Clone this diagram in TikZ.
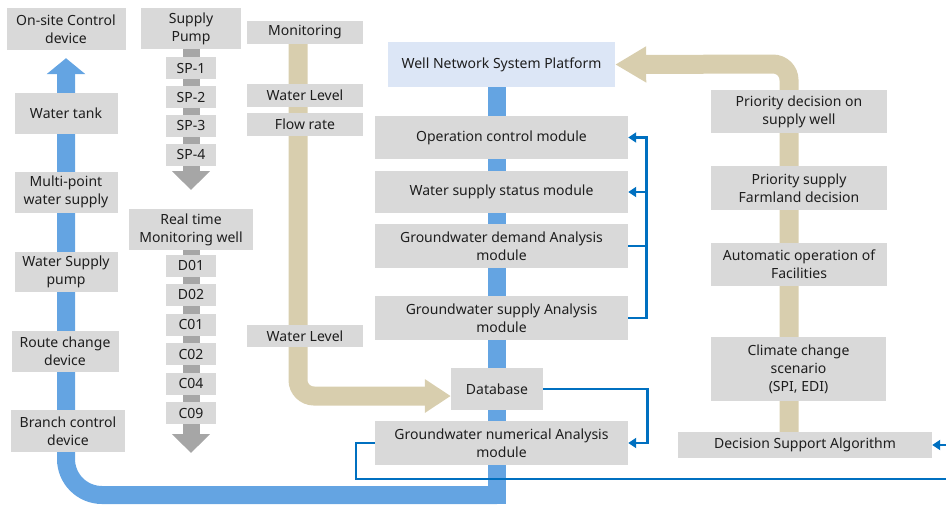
\documentclass[tikz,border=0pt]{standalone}
\usepackage{fontspec}
\setmainfont{Noto Sans}
\usetikzlibrary{arrows.meta,backgrounds}
\definecolor{boxgray}{RGB}{217,217,217}
\definecolor{txt}{RGB}{30,30,30}
\definecolor{platblue}{RGB}{220,230,246}
\definecolor{barblue}{RGB}{100,164,226}
\definecolor{linkblue}{RGB}{0,112,192}
\definecolor{beige}{RGB}{216,206,174}
\definecolor{bargray}{RGB}{166,166,166}

\begin{document}
\begin{tikzpicture}[x=1pt,y=-1pt,
  every node/.style={font=\fontsize{14}{18}\selectfont,text=txt,align=center,inner sep=0pt},
  box/.style 2 args={fill=boxgray,minimum width=#1pt,minimum height=#2pt},
  bluebar/.style={draw=barblue,line width=18pt},
  beigebar/.style={draw=beige,line width=19pt},
  graybar/.style={draw=bargray,line width=17pt},
  link/.style={draw=linkblue,line width=2.6pt},
  linkto/.style={link,-{Triangle[length=8pt,width=10pt]}}]
\useasboundingbox (0,0) rectangle (946,504);
\clip (0,0) rectangle (946,504);
% left column
\node[box={119}{42}] (onsite) at (66,29) {On-site Control\\device};
\node[box={103}{41}] (tank) at (66,113) {Water tank};
\node[box={103}{41}] (multi) at (66,192) {Multi-point\\water supply};
\node[box={103}{40}] (wspump) at (66,272) {Water Supply\\pump};
\node[box={107}{41}] (route) at (65,351.5) {Route change\\device};
\node[box={114}{42}] (branch) at (68,431) {Branch control\\device};
% pumps and monitoring wells
\node[box={100}{41}] (pump) at (191,28.5) {Supply\\Pump};
\node[box={50}{22}] (sp1) at (191,68) {SP-1};
\node[box={50}{22}] (sp2) at (191,97) {SP-2};
\node[box={50}{22}] (sp3) at (191,125.5) {SP-3};
\node[box={50}{22}] (sp4) at (191,154.5) {SP-4};
\coordinate (sptip) at (191,190);
\node[box={124}{41}] (rtm) at (191,229.5) {Real time\\Monitoring well};
\node[box={50}{22}] (d01) at (191,265.5) {D01};
\node[box={50}{22}] (d02) at (191,294.5) {D02};
\node[box={50}{22}] (c01) at (191,324.5) {C01};
\node[box={50}{22}] (c02) at (191,354) {C02};
\node[box={50}{22}] (c04) at (191,383.5) {C04};
\node[box={50}{22}] (c09) at (191,413) {C09};
\coordinate (wtip) at (191,453);
% monitoring
\node[box={116}{23}] (monitor) at (305,32.5) {Monitoring};
\node[box={116}{23}] (wl1) at (305,95.5) {Water Level};
\node[box={116}{23}] (flow) at (305,124.5) {Flow rate};
\node[box={116}{22}] (wl2) at (305,336) {Water Level};
% platform and modules
\node[box={227}{45},fill=platblue] (platform) at (501.5,64.5) {Well Network System Platform};
\node[box={253}{43}] (opc) at (501.5,137.5) {Operation control module};
\node[box={253}{42}] (wss) at (501.5,192) {Water supply status module};
\node[box={253}{44}] (gda) at (501.5,246) {Groundwater demand Analysis\\module};
\node[box={253}{44}] (gsa) at (501.5,318) {Groundwater supply Analysis\\module};
\node[box={92}{42}] (dbase) at (497,389) {Database};
\node[box={253}{44}] (gna) at (501.5,443) {Groundwater numerical Analysis\\module};
\coordinate (bottom) at (497,504);
% decision side
\node[box={176}{43}] (prio) at (799,111.5) {Priority decision on\\supply well};
\node[box={176}{44}] (farm) at (799,188) {Priority supply\\Farmland decision};
\node[box={176}{43}] (auto) at (799,264.5) {Automatic operation of\\Facilities};
\node[box={175}{64}] (climate) at (798.5,369) {Climate change\\scenario\\(SPI, EDI)};
\node[box={254}{26}] (dsa) at (805,445) {Decision Support Algorithm};
\coordinate (rtop) at (789,64);

\begin{scope}[on background layer]
\draw[bluebar] (platform.south -| dbase) -- (bottom);
\draw[bluebar,rounded corners=36pt,-{Triangle[length=16pt,width=38pt]}]
  (dbase |- 0,495) -- (onsite.south |- 0,495) -- ([yshift=-8pt]onsite.south);
\draw[graybar,-{Triangle[length=19pt,width=37pt]}] (pump.south) -- (sptip);
\draw[graybar,-{Triangle[length=19pt,width=37pt]}] (rtm.south) -- (wtip);
\draw[beigebar,rounded corners=16pt,-{Triangle[length=26pt,width=32pt]}]
  ([xshift=-7pt]monitor.south) |- ([yshift=-7pt]dbase.west);
\draw[beigebar,rounded corners=16pt,-{Triangle[length=31pt,width=34pt]}]
  (dsa.north -| rtop) -- (rtop) -- (platform.east);
\end{scope}

\draw[linkto] (gsa.east) -- ++(18,0) |- (opc.east);
\draw[link] (gda.east) -- ++(18,0);
\draw[linkto] ([xshift=18pt]wss.east) -- (wss.east);
\draw[linkto] (dbase.east) -- ++(104,0) |- (gna.east);
\draw[linkto] (gna.west) -- ++(-19,0) |- (970,479) |- (dsa.east);
\end{tikzpicture}
\end{document}
